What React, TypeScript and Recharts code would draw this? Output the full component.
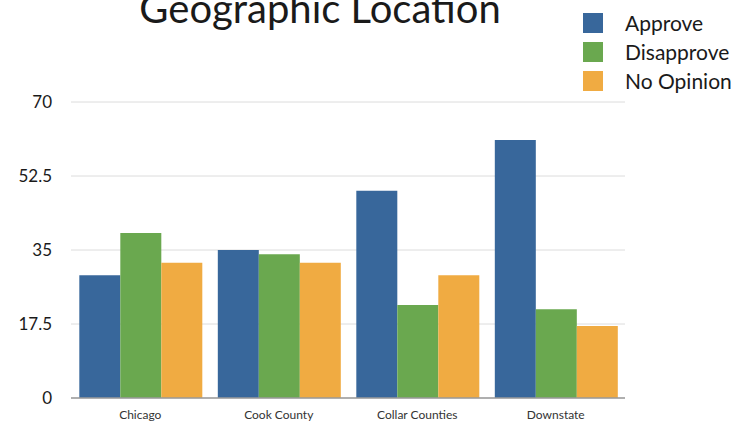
import { BarChart, Bar, XAxis, YAxis, CartesianGrid } from "recharts";

const regions = ["Chicago", "Cook County", "Collar Counties", "Downstate"];
const approve = [29, 35, 49, 61];
const disapprove = [39, 34, 22, 21];
const noOpinion = [32, 32, 29, 17];
const yTicks = [0, 17.5, 35, 52.5, 70];

const series = [
    { key: "approve", name: "Approve", color: "#38679b" },
    { key: "disapprove", name: "Disapprove", color: "#6aa84f" },
    { key: "noOpinion", name: "No Opinion", color: "#f0ab42" },
];

const data = regions.map((region, i) => ({
    region,
    approve: approve[i],
    disapprove: disapprove[i],
    noOpinion: noOpinion[i],
}));

const font = "Lato, 'Open Sans', sans-serif";

export default function App() {
    return (
        <div style={{ position: "absolute", left: 0, top: 0, width: 748, height: 428, overflow: "hidden", background: "#fff" }}>
            <BarChart
                width={748}
                height={428}
                data={data}
                margin={{ top: 102, right: 123, bottom: 0, left: 0 }}
                barCategoryGap="6%"
                barGap={0}
            >
                <CartesianGrid vertical={false} stroke="#dcdcdc" />
                <XAxis
                    dataKey="region"
                    height={30}
                    tickLine={false}
                    tickMargin={6}
                    axisLine={{ stroke: "#9a9a9a", strokeWidth: 1.5 }}
                    tick={{ fontSize: 12, fill: "#333", fontFamily: font }}
                />
                <YAxis
                    width={71}
                    domain={[0, 70]}
                    ticks={yTicks}
                    axisLine={false}
                    tickLine={false}
                    tickMargin={13}
                    tick={{ fontSize: 17, fill: "#1a1a1a", fontFamily: font }}
                />
                {series.map((s) => (
                    <Bar key={s.key} dataKey={s.key} name={s.name} fill={s.color} isAnimationActive={false} />
                ))}
            </BarChart>
            {/* title sits partly off the top edge, as in the source image */}
            <div
                style={{
                    position: "absolute",
                    top: -12,
                    left: 0,
                    width: 640,
                    textAlign: "center",
                    fontFamily: font,
                    fontSize: 40,
                    lineHeight: "40px",
                    color: "#1a1a1a",
                    whiteSpace: "nowrap",
                }}
            >
                Geographic Location
            </div>
            <div style={{ position: "absolute", top: 8, left: 583 }}>
                {series.map((s) => (
                    <div key={s.key} style={{ display: "flex", alignItems: "center", height: 29 }}>
                        <span style={{ display: "inline-block", width: 20, height: 20, backgroundColor: s.color, marginRight: 22 }} />
                        <span style={{ fontSize: 21, color: "#1a1a1a", fontFamily: font }}>{s.name}</span>
                    </div>
                ))}
            </div>
        </div>
    );
}
